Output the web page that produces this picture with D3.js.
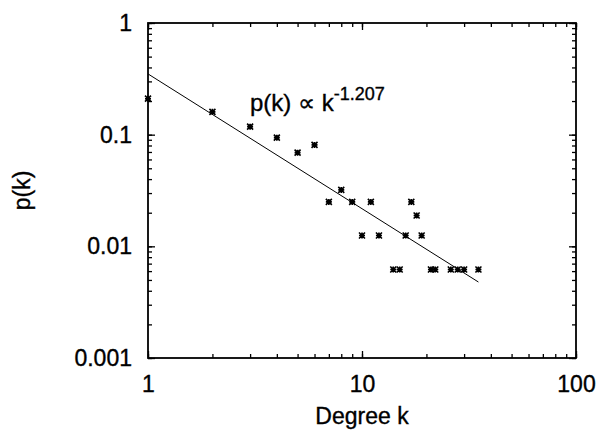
<!DOCTYPE html>
<html>
<head>
<meta charset="utf-8">
<script src="https://cdn.jsdelivr.net/npm/d3@7"></script>
<style>
  body { margin: 0; background: #fff; }
  svg { display: block; font-family: "Liberation Sans", Arial, Helvetica, sans-serif; }
  text { stroke: #000; stroke-width: 0.35px; }
</style>
</head>
<body>
<script>
// degree distribution data
var degree = [1, 2, 3, 4, 5, 6, 7, 8, 9, 10, 11, 12, 14, 15, 16, 17, 18, 19, 21, 22, 26, 28, 30, 35];
var prob = [0.21, 0.16, 0.118, 0.094, 0.069, 0.081, 0.025, 0.032, 0.025, 0.0125, 0.025, 0.0125,
            0.0062, 0.0062, 0.0125, 0.025, 0.0189, 0.0125, 0.0062, 0.0062, 0.0062, 0.0062, 0.0062, 0.0062];

// power law fit p(k) = c * k^-1.207
var fitExponent = -1.207;
var fitCoef = 0.35;
var fitRange = [1, 35];

var xTicks = [1, 10, 100];
var yTicks = [0.001, 0.01, 0.1, 1];
var yTickLabels = ["0.001", "0.01", "0.1", "1"];

var width = 602, height = 430;
var plotL = 148, plotR = 576, plotT = 23, plotB = 358;

var svg = d3.select('body').append('svg').attr('width', width).attr('height', height);

var x = d3.scaleLog().domain([1, 100]).range([plotL, plotR]);
var y = d3.scaleLog().domain([0.001, 1]).range([plotB, plotT]);

// minor ticks (no labels) on all four sides
function minorAxis(axisFn, scale) {
  return axisFn(scale).tickValues(scale.ticks()).tickSize(-4).tickFormat('');
}
function majorAxis(axisFn, scale, vals) {
  return axisFn(scale).tickValues(vals).tickSize(-7).tickFormat('');
}

var g = svg.append('g');
g.append('g').attr('transform', 'translate(0,' + plotB + ')').call(minorAxis(d3.axisBottom, x));
g.append('g').attr('transform', 'translate(0,' + plotT + ')').call(minorAxis(d3.axisTop, x));
g.append('g').attr('transform', 'translate(' + plotL + ',0)').call(minorAxis(d3.axisLeft, y));
g.append('g').attr('transform', 'translate(' + plotR + ',0)').call(minorAxis(d3.axisRight, y));
g.append('g').attr('transform', 'translate(0,' + plotB + ')').call(majorAxis(d3.axisBottom, x, xTicks));
g.append('g').attr('transform', 'translate(0,' + plotT + ')').call(majorAxis(d3.axisTop, x, xTicks));
g.append('g').attr('transform', 'translate(' + plotL + ',0)').call(majorAxis(d3.axisLeft, y, yTicks));
g.append('g').attr('transform', 'translate(' + plotR + ',0)').call(majorAxis(d3.axisRight, y, yTicks));
g.selectAll('.domain').remove();
g.selectAll('.tick line').attr('stroke', '#000').attr('stroke-width', 1.3);

// tick labels
var xLab = svg.append('g').attr('transform', 'translate(0,' + plotB + ')')
  .call(d3.axisBottom(x).tickValues(xTicks).tickSize(0).tickPadding(18).tickFormat(d3.format('d')));
var yLab = svg.append('g').attr('transform', 'translate(' + plotL + ',0)')
  .call(d3.axisLeft(y).tickValues(yTicks).tickSize(0).tickPadding(16)
    .tickFormat(function(d, i) { return yTickLabels[i]; }));
[xLab, yLab].forEach(function(a) {
  a.select('.domain').remove();
  a.selectAll('text').attr('font-size', 23).attr('fill', '#000')
    .attr('font-family', '"Liberation Sans", Arial, sans-serif');
});

// frame
svg.append('rect').attr('x', plotL).attr('y', plotT)
  .attr('width', plotR - plotL).attr('height', plotB - plotT)
  .attr('fill', 'none').attr('stroke', '#000').attr('stroke-width', 1.8);

// fit line
var fitLine = d3.line()
  .x(function(d) { return x(d); })
  .y(function(d) { return y(fitCoef * Math.pow(d, fitExponent)); });
svg.append('path').datum(fitRange).attr('d', fitLine)
  .attr('fill', 'none').attr('stroke', '#000').attr('stroke-width', 1);

// asterisk markers
var s = 3;
var markers = svg.append('g').selectAll('g').data(degree).enter().append('g')
  .attr('transform', function(d, i) { return 'translate(' + x(d) + ',' + y(prob[i]) + ')'; });
markers.append('path')
  .attr('d', 'M' + (-s) + ',0H' + s + 'M0,' + (-s) + 'V' + s +
             'M' + (-s) + ',' + (-s) + 'L' + s + ',' + s + 'M' + (-s) + ',' + s + 'L' + s + ',' + (-s))
  .attr('stroke', '#000').attr('stroke-width', 1.6).attr('fill', 'none');

// formula annotation
var formula = svg.append('text').attr('x', 250).attr('y', 111)
  .attr('font-size', 24).attr('fill', '#000');
formula.append('tspan').text('p(k) \u221d k');
formula.append('tspan').attr('dy', -11).attr('font-size', 18).text('-1.207');

// axis titles
svg.append('text').attr('x', (plotL + plotR) / 2).attr('y', 424)
  .attr('text-anchor', 'middle').attr('font-size', 23).attr('fill', '#000').text('Degree k');
svg.append('text').attr('transform', 'translate(30,' + ((plotT + plotB) / 2) + ') rotate(-90)')
  .attr('text-anchor', 'middle').attr('font-size', 23).attr('fill', '#000').text('p(k)');
</script>
</body>
</html>
